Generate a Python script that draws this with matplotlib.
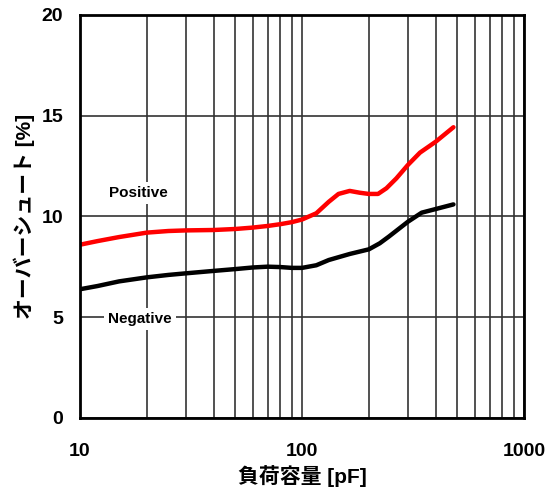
import numpy as np
import matplotlib.pyplot as plt
from matplotlib import rcParams

rcParams['font.family'] = ['Liberation Sans', 'Noto Sans CJK JP']
rcParams['font.weight'] = 'bold'

# 負荷容量 [pF] とオーバーシュート [%]
cap_pos = [10, 12, 15, 20, 25, 30, 40, 50, 60, 70, 80, 90, 100, 116, 132, 146, 164,
           182, 200, 220, 240, 266, 300, 340, 400, 481]
overshoot_pos = [8.6, 8.78, 8.98, 9.2, 9.28, 9.31, 9.33, 9.38, 9.45, 9.53, 9.62, 9.72, 9.85,
                 10.16, 10.73, 11.12, 11.27, 11.18, 11.12, 11.12, 11.4, 11.89, 12.56, 13.17,
                 13.71, 14.43]

cap_neg = [10, 12, 15, 20, 25, 30, 40, 50, 60, 70, 80, 90, 100, 116, 132, 164, 200, 224,
           246, 300, 346, 400, 481]
overshoot_neg = [6.39, 6.55, 6.78, 6.98, 7.1, 7.18, 7.3, 7.39, 7.47, 7.51, 7.49, 7.45, 7.45,
                 7.58, 7.84, 8.14, 8.37, 8.67, 9.0, 9.74, 10.19, 10.37, 10.6]

fig = plt.figure(figsize=(5.48, 5.0), dpi=100)
fig.set_facecolor('white')
ax = fig.add_axes([80 / 548, 82 / 500, 444 / 548, 403 / 500])

ax.plot(cap_pos, overshoot_pos, color='#ff0000', linewidth=3.2,
        solid_capstyle='round', solid_joinstyle='round', zorder=3)
ax.plot(cap_neg, overshoot_neg, color='black', linewidth=3.2,
        solid_capstyle='round', solid_joinstyle='round', zorder=3)

ax.set_xscale('log')
ax.set_xlim(10, 1000)
ax.set_ylim(0, 20)
ax.set_yticks([0, 5, 10, 15, 20])
ax.set_xticks([10, 100, 1000])
ax.set_xticklabels(['10', '100', '1000'])

ax.grid(True, which='both', axis='x', color='#333333', linewidth=1.2)
ax.grid(True, which='major', axis='y', color='#333333', linewidth=1.2)
ax.set_axisbelow(True)

ax.tick_params(axis='both', which='both', length=0, labelsize=14)
ax.tick_params(axis='x', pad=18)
ax.tick_params(axis='y', pad=12)

for spine in ax.spines.values():
    spine.set_linewidth(2.0)
    spine.set_zorder(4)

ax.set_xlabel('負荷容量 [pF]', fontsize=15, fontweight='bold', labelpad=4)
ax.set_ylabel('オーバーシュート [%]', fontsize=15, fontweight='bold')
ax.yaxis.set_label_coords(-0.102, 0.5)

box = dict(facecolor='white', edgecolor='none', pad=3)
ax.text(18.3, 11.17, 'Positive', fontsize=11, fontweight='bold', ha='center', va='center',
        bbox=box, zorder=2)
ax.text(18.6, 4.91, 'Negative', fontsize=11, fontweight='bold', ha='center', va='center',
        bbox=box, zorder=2)

plt.savefig('out.png', dpi=100, facecolor='white')
